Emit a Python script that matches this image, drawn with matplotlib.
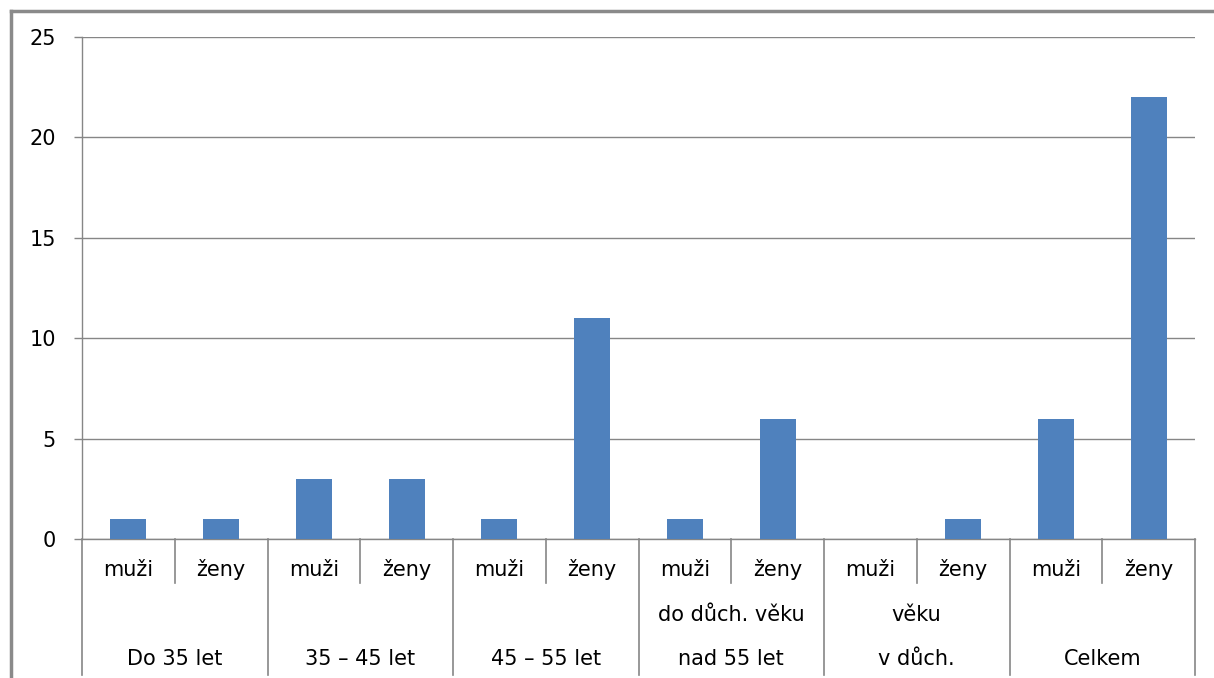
import numpy as np
import matplotlib
matplotlib.use("Agg")
import matplotlib.pyplot as plt
from matplotlib.lines import Line2D
import matplotlib.transforms as mtransforms

# data
groups_top = ["", "", "", "do důch. věku", "věku", ""]
groups_bottom = ["Do 35 let", "35 – 45 let", "45 – 55 let", "nad 55 let", "v důch.", "Celkem"]
sexes = ["muži", "ženy"]
muzi = [1, 3, 1, 1, 0, 6]
zeny = [1, 3, 11, 6, 1, 22]
yticks = [0, 5, 10, 15, 20, 25]

bar_color = "#4F81BD"
line_gray = "#868686"

W, H = 1214, 678
fig = plt.figure(figsize=(W / 100, H / 100), dpi=100)
plt.rcParams['font.family'] = ['DejaVu Sans']

ax = fig.add_axes([82 / W, (H - 539) / H, (1195 - 82) / W, (539 - 37) / H])

values = []
for m, z in zip(muzi, zeny):
    values += [m, z]
x = np.arange(len(values))
ax.bar(x, values, width=0.39, color=bar_color, zorder=3)

ax.set_xlim(-0.5, len(values) - 0.5)
ax.set_ylim(0, 25)
ax.set_yticks(yticks)
ax.set_yticklabels([str(t) for t in yticks], fontsize=15)
ax.tick_params(axis='y', length=5.8, width=1, color=line_gray, pad=13)
ax.set_xticks([])
ax.yaxis.grid(True, color=line_gray, linewidth=1, zorder=0)

for s in ["top", "right"]:
    ax.spines[s].set_visible(False)
for s in ["left", "bottom"]:
    ax.spines[s].set_color(line_gray)
    ax.spines[s].set_linewidth(1)

# category separators and labels under the axis
trans = mtransforms.blended_transform_factory(ax.transData, ax.transAxes)
y_minor = (539 - 583) / 502
y_major = (539 - 675) / 502
for k in range(len(values) + 1):
    xs = k - 0.5
    yb = y_major if k % 2 == 0 else y_minor
    ax.add_line(Line2D([xs, xs], [0, yb], transform=trans, color=line_gray,
                       linewidth=1.2, clip_on=False))

y_sex = (539 - 570) / 502
y_top = (539 - 615) / 502
y_bot = (539 - 659) / 502
for i in range(len(values)):
    ax.text(i, y_sex, sexes[i % 2], transform=trans, ha='center', va='center',
            fontsize=15)
for g in range(len(groups_bottom)):
    xc = 2 * g + 0.5
    if groups_top[g]:
        ax.text(xc, y_top, groups_top[g], transform=trans, ha='center',
                va='center', fontsize=15)
    ax.text(xc, y_bot, groups_bottom[g], transform=trans, ha='center',
            va='center', fontsize=15)

# outer chart frame
fig.add_artist(Line2D([11 / W, 11 / W], [0, 1 - 11 / H], transform=fig.transFigure,
                      color="#8a8a8a", linewidth=2.5))
fig.add_artist(Line2D([11 / W, 1], [1 - 11 / H, 1 - 11 / H], transform=fig.transFigure,
                      color="#8a8a8a", linewidth=2.5))

fig.savefig("out.png", dpi=100)
